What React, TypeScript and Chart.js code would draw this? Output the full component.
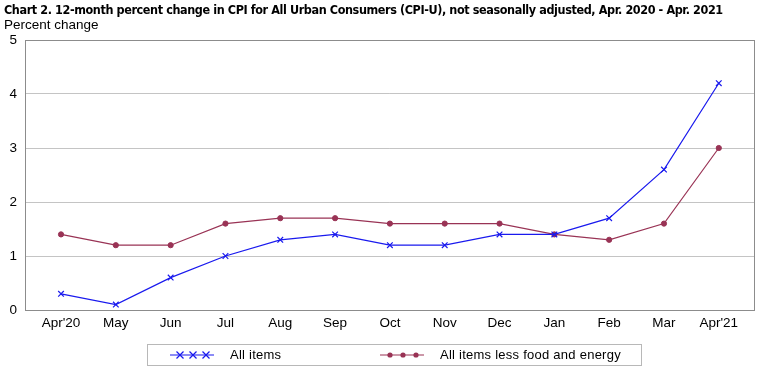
import React, { useEffect, useRef } from "react";
import { Chart, registerables } from "chart.js";

Chart.register(...registerables);

const categories = ["Apr'20", "May", "Jun", "Jul", "Aug", "Sep", "Oct", "Nov", "Dec", "Jan", "Feb", "Mar", "Apr'21"];
const allItems = [0.3, 0.1, 0.6, 1.0, 1.3, 1.4, 1.2, 1.2, 1.4, 1.4, 1.7, 2.6, 4.2];
const lessFoodEnergy = [1.4, 1.2, 1.2, 1.6, 1.7, 1.7, 1.6, 1.6, 1.6, 1.4, 1.3, 1.6, 3.0];
const yTicks = [0, 1, 2, 3, 4, 5];

const BLUE = "#1a1aee";
const MAROON = "#993355";
const FONT = "'Liberation Sans', Arial, sans-serif";

const borderPlugin = {
  id: "areaBorder",
  afterDraw(chart: any) {
    const { ctx, chartArea } = chart;
    ctx.save();
    ctx.strokeStyle = "#8c8c8c";
    ctx.lineWidth = 1;
    ctx.strokeRect(Math.round(chartArea.left) + 0.5, Math.round(chartArea.top) + 0.5, Math.round(chartArea.right - chartArea.left) - 1, Math.round(chartArea.bottom - chartArea.top));
    ctx.restore();
  },
};

export default function App() {
  const ref = useRef<HTMLCanvasElement | null>(null);
  useEffect(() => {
    document.body.style.margin = "0";
    const chart = new Chart(ref.current!, {
      type: "line",
      data: {
        datasets: [
          {
            label: "All items",
            data: allItems.map((v, i) => ({ x: i, y: v })),
            borderColor: BLUE,
            backgroundColor: BLUE,
            borderWidth: 1.2,
            pointStyle: "crossRot",
            pointRadius: 4,
            pointBorderWidth: 1.2,
            tension: 0,
          },
          {
            label: "All items less food and energy",
            data: lessFoodEnergy.map((v, i) => ({ x: i, y: v })),
            borderColor: MAROON,
            backgroundColor: MAROON,
            borderWidth: 1.2,
            pointStyle: "circle",
            pointRadius: 2.6,
            pointBorderWidth: 1,
            tension: 0,
          },
        ],
      },
      options: {
        animation: false,
        responsive: false,
        maintainAspectRatio: false,
        layout: { padding: { top: 40, right: 5, left: 0, bottom: 0 } },
        plugins: { legend: { display: false }, tooltip: { enabled: false }, title: { display: false } },
        scales: {
          x: {
            type: "linear",
            min: -0.657,
            max: 12.657,
            afterBuildTicks(scale: any) {
              scale.ticks = categories.map((_, i) => ({ value: i }));
            },
            afterFit(scale: any) {
              scale.height = 60;
            },
            grid: { display: false, drawTicks: false },
            border: { display: false },
            ticks: {
              autoSkip: false,
              maxRotation: 0,
              padding: 5,
              color: "#000",
              font: { family: FONT, size: 13.5 },
              callback: (v: any) => categories[v as number] ?? "",
            },
          },
          y: {
            min: 0,
            max: 5,
            afterBuildTicks(scale: any) {
              scale.ticks = yTicks.map((v) => ({ value: v }));
            },
            afterFit(scale: any) {
              scale.width = 25;
            },
            grid: { color: "#c4c4c4", drawTicks: false, lineWidth: 1 },
            border: { display: false },
            ticks: {
              padding: 8,
              color: "#000",
              font: { family: FONT, size: 13.5 },
            },
          },
        },
      },
      plugins: [borderPlugin],
    } as any);
    return () => chart.destroy();
  }, []);

  const legendMarker = (kind: "x" | "o", color: string) => (
    <svg width="46" height="12" style={{ display: "block" }}>
      <line x1="0" y1="6" x2="44" y2="6" stroke={color} strokeWidth="1.2" />
      {[10, 23, 36].map((cx) =>
        kind === "x" ? (
          <g key={cx} stroke={color} strokeWidth="1.2">
            <line x1={cx - 3.5} y1={2.5} x2={cx + 3.5} y2={9.5} />
            <line x1={cx - 3.5} y1={9.5} x2={cx + 3.5} y2={2.5} />
          </g>
        ) : (
          <circle key={cx} cx={cx} cy={6} r={2.6} fill={color} />
        )
      )}
    </svg>
  );

  return (
    <div style={{ position: "absolute", left: 0, top: 0, width: 760, height: 370, background: "#fff", overflow: "hidden" }}>
      <canvas ref={ref} width={760} height={370} style={{ position: "absolute", left: 0, top: 0 }} />
      <div style={{ position: "absolute", left: 4, top: 2, fontFamily: "'DejaVu Sans Condensed', 'DejaVu Sans', sans-serif", fontWeight: "bold", fontSize: 12.5, letterSpacing: -0.4, whiteSpace: "nowrap", color: "#000" }}>
        Chart 2. 12-month percent change in CPI for All Urban Consumers (CPI-U), not seasonally adjusted, Apr. 2020 - Apr. 2021
      </div>
      <div style={{ position: "absolute", left: 4, top: 17, fontFamily: FONT, fontSize: 13.5, whiteSpace: "nowrap", color: "#000" }}>
        Percent change
      </div>
      <div style={{ position: "absolute", left: 147, top: 344, width: 495, height: 22, border: "1px solid #b8b8b8", boxSizing: "border-box", fontFamily: FONT, fontSize: 13, letterSpacing: 0.25, color: "#000" }}>
        <div style={{ position: "absolute", left: 22, top: 4 }}>{legendMarker("x", BLUE)}</div>
        <div style={{ position: "absolute", left: 82, top: 2 }}>All items</div>
        <div style={{ position: "absolute", left: 232, top: 4 }}>{legendMarker("o", MAROON)}</div>
        <div style={{ position: "absolute", left: 292, top: 2 }}>All items less food and energy</div>
      </div>
    </div>
  );
}
